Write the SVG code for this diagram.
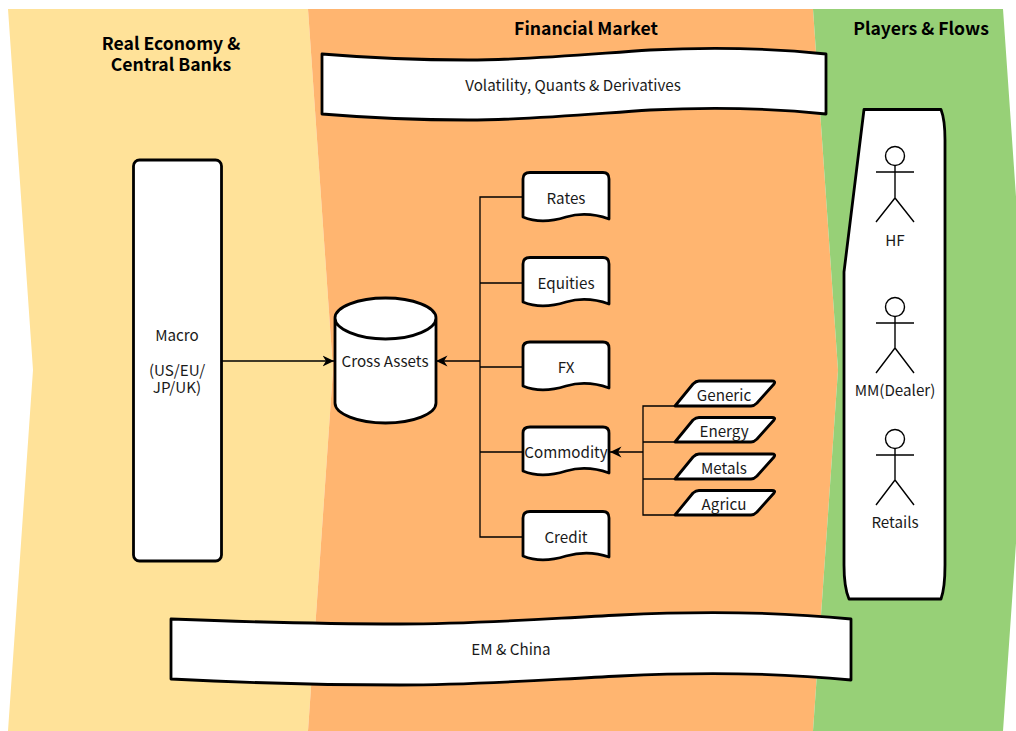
<svg xmlns="http://www.w3.org/2000/svg" width="1016" height="731" viewBox="0 0 1016 731">
<defs>
<marker id="arrow" markerUnits="userSpaceOnUse" markerWidth="13" markerHeight="13" refX="11.500" refY="6.500" orient="auto"><path d="M0,1 L11.500,6.500 L0,12 L3.500,6.500 Z" fill="#000"/></marker>
</defs>
<style>
text{font-family:"Noto Sans CJK SC","Noto Sans",sans-serif;font-size:15.200px;fill:#1a1a1a;text-anchor:middle}
.title{font-size:17.600px;font-weight:700;fill:#000}
.s{fill:#fff;stroke:#000;stroke-width:2.800;stroke-linejoin:round}
.c{fill:none;stroke:#000;stroke-width:1.300}
.a{fill:none;stroke:#000;stroke-width:1.400}
</style>
<g id="bands">
<path d="M8,9 H308 L333,370 L308,731 H8 L33,370 Z" fill="#ffe299"/>
<path d="M308,9 H813 L838,370 L813,731 H308 L333,370 Z" fill="#ffb570"/>
<path d="M813,9 H1003 L1028,370 L1003,731 H813 L838,370 Z" fill="#97d077"/>
</g>
<g id="connectors">
<path class="c" d="M222,361 H334" marker-end="url(#arrow)"/>
<path class="c" d="M480,361 H436" marker-end="url(#arrow)"/>
<path class="c" d="M523,197 H480 V537 H523 M480,283 H523 M480,367 H523 M480,452 H523"/>
<path class="c" d="M643,452 H610" marker-end="url(#arrow)"/>
<path class="c" d="M675,406 H643 V515 H675 M643,442 H675 M643,479 H675"/>
</g>
<g id="title-real"><text class="title" x="171" y="50">Real Economy &amp;</text><text class="title" x="171" y="70.500">Central Banks</text></g>
<g id="title-market"><text class="title" x="586" y="35">Financial Market</text></g>
<g id="title-players"><text class="title" x="921" y="35">Players &amp; Flows</text></g>
<g id="vol"><path class="s" d="M322,54 C370,58 420,60 468,60 C530,60 590,54 650,50 C710,47 770,48 826,54 V114 C770,108 710,107 650,110 C590,114 530,120 468,120 C420,120 370,118 322,114 Z"/><text x="573" y="91">Volatility, Quants &amp; Derivatives</text></g>
<g id="macro"><rect class="s" x="133.500" y="160" width="88" height="401" rx="6"/><text x="177" y="341">Macro</text><text x="177" y="376">(US/EU/</text><text x="177" y="393">JP/UK)</text></g>
<g id="cross"><path class="s" d="M335,318 V403 C335,414 358,423 385.500,423 C413,423 436,414 436,403 V318 C436,307 413,298 385.500,298 C358,298 335,307 335,318 C335,329 358,339 385.500,339 C413,339 436,329 436,318"/><text x="385" y="367">Cross Assets</text></g>
<g id="rates"><path class="s" d="M523,179 Q523,172.500 530,172.500 H603 Q609,172.500 609,179 V219 C595,214 580,213 566,217 C550,222 535,222 523,217 Z"/><text x="566" y="204">Rates</text></g>
<g id="equities"><path class="s" d="M523,264 Q523,257.500 530,257.500 H603 Q609,257.500 609,264 V304 C595,299 580,298 566,302 C550,307 535,307 523,302 Z"/><text x="566" y="289">Equities</text></g>
<g id="fx"><path class="s" d="M523,348 Q523,342 530,342 H603 Q609,342 609,348 V388 C595,383 580,382 566,386 C550,391 535,391 523,386 Z"/><text x="566" y="373">FX</text></g>
<g id="commodity"><path class="s" d="M523,433 Q523,427 530,427 H603 Q609,427 609,433 V473 C595,468 580,467 566,471 C550,476 535,476 523,471 Z"/><text x="566" y="458">Commodity</text></g>
<g id="credit"><path class="s" d="M523,518 Q523,511.500 530,511.500 H603 Q609,511.500 609,518 V557 C595,552 580,552 566,556 C550,561 535,561 523,556 Z"/><text x="566" y="542.500">Credit</text></g>
<g id="generic"><path class="s" d="M675,406 L693,384 Q696,381 699,381 H772 Q776,381 774,384 L757,403 Q754,406 751,406 Z"/><text x="724" y="401">Generic</text></g>
<g id="energy"><path class="s" d="M675,442 L693,420 Q696,417.500 699,417.500 H772 Q776,417.500 774,420 L757,439 Q754,442 751,442 Z"/><text x="724" y="437">Energy</text></g>
<g id="metals"><path class="s" d="M675,479 L693,457 Q696,454 699,454 H772 Q776,454 774,457 L757,476 Q754,479 751,479 Z"/><text x="724" y="474">Metals</text></g>
<g id="agricu"><path class="s" d="M675,515 L693,493 Q696,490.500 699,490.500 H772 Q776,490.500 774,493 L757,512 Q754,515 751,515 Z"/><text x="724" y="510">Agricu</text></g>
<g id="players-box"><path class="s" d="M864,109.500 H941 C943.500,116 945,125 945,140 V565 C945,580 943.500,592 941,599 H849 C846,592 844,580 844,565 V272 Z"/></g>
<g id="hf"><circle class="a" cx="895" cy="156" r="9.500"/><path class="a" d="M895,165.500 V198 M876,172 H914 M876,222 L895,198 L914,222"/><text x="895" y="246">HF</text></g>
<g id="mm"><circle class="a" cx="895" cy="307" r="9.500"/><path class="a" d="M895,316.500 V348 M876,323 H914 M876,373 L895,348 L914,373"/><text x="895" y="396">MM(Dealer)</text></g>
<g id="retails"><circle class="a" cx="895" cy="439" r="9.500"/><path class="a" d="M895,448.500 V480 M876,455 H914 M876,505 L895,480 L914,505"/><text x="895" y="528">Retails</text></g>
<g id="em"><path class="s" d="M171,619 C250,622 320,624 400,624 C480,624 540,619 620,615 C700,611 780,612 851,619 V680 C780,673 700,672 620,676 C540,680 480,685 400,685 C320,685 250,683 171,679 Z"/><text x="511" y="655">EM &amp; China</text></g>
</svg>
